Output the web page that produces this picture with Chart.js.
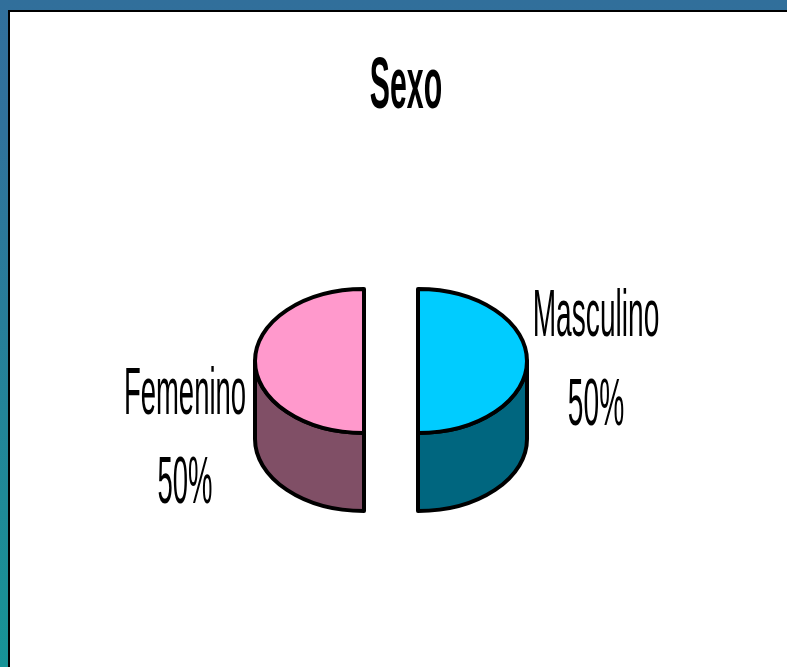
<!DOCTYPE html>
<html>
<head>
<meta charset="utf-8">
<title>Sexo</title>
<style>
    html, body { margin: 0; padding: 0; }
    body {
        position: relative;
        width: 787px;
        height: 667px;
        overflow: hidden;
        background: linear-gradient(to bottom, #316f9b, #30729b 20%, #1a9096 90%, #169397);
    }
    #frame {
        position: absolute;
        left: 8px;
        top: 10px;
        right: 0;
        bottom: 0;
        background: #fff;
        border-left: 2px solid #000;
        border-top: 2px solid #000;
    }
    #chart { position: absolute; left: 0; top: 0; }
</style>
</head>
<body>
<div id="frame"></div>
<canvas id="chart" width="787" height="667"></canvas>
<script src="https://cdn.jsdelivr.net/npm/chart.js@4"></script>
<script>
const chartTitle = 'Sexo';
const categories = ['Masculino', 'Femenino'];
const values = [50, 50];
const topColors = ['#00ccff', '#ff99cc'];
const sideColors = ['#00667f', '#804f66'];

// Page positions of the text blocks, same order as categories
const labelCenters = [
    { x: 596, y: 336, pctY: 425, scaleX: 0.42 },
    { x: 185, y: 414, pctY: 503, scaleX: 0.41 }
];

const squash = 72 / 109;   // height / width of the top ellipse
const depth = 78;          // height of the pie wall
const explode = 27;        // how far each slice is pulled out

// Condensed text, the reference squeezes Arial to less than half its width
function narrowText(ctx, text, x, y, font, scaleX) {
    ctx.save();
    ctx.font = font;
    ctx.fillStyle = '#000';
    ctx.textAlign = 'center';
    ctx.textBaseline = 'alphabetic';
    ctx.translate(x, y);
    ctx.scale(scaleX, 1);
    ctx.fillText(text, 0, 0);
    ctx.restore();
}

function drawSlice(ctx, arc, i) {
    const mid = (arc.startAngle + arc.endAngle) / 2;
    const rx = arc.outerRadius;
    const ry = rx * squash;
    const cx = arc.x + Math.cos(mid) * explode;
    const cy = arc.y;

    ctx.lineWidth = 4;
    ctx.lineJoin = 'round';
    ctx.strokeStyle = '#000';

    // Wall: only the part of the rim that faces the viewer (angle 0 to PI)
    const wallStart = Math.max(arc.startAngle, 0);
    const wallEnd = Math.min(arc.endAngle, Math.PI);
    ctx.beginPath();
    ctx.ellipse(cx, cy, rx, ry, 0, wallStart, wallEnd);
    ctx.ellipse(cx, cy + depth, rx, ry, 0, wallEnd, wallStart, true);
    ctx.closePath();
    ctx.fillStyle = sideColors[i];
    ctx.fill();
    ctx.stroke();

    // Top face
    ctx.beginPath();
    ctx.moveTo(cx, cy);
    ctx.ellipse(cx, cy, rx, ry, 0, arc.startAngle, arc.endAngle);
    ctx.closePath();
    ctx.fillStyle = topColors[i];
    ctx.fill();
    ctx.stroke();
}

const pie3d = {
    id: 'pie3d',
    beforeDatasetsDraw(chart) {
        const ctx = chart.ctx;
        const arcs = chart.getDatasetMeta(0).data;
        const total = values.reduce((a, b) => a + b, 0);

        arcs.forEach((arc, i) => drawSlice(ctx, arc, i));

        categories.forEach((name, i) => {
            const p = labelCenters[i];
            const pct = Math.round(values[i] / total * 100) + '%';
            narrowText(ctx, name, p.x, p.y, '67px "Liberation Sans"', p.scaleX);
            narrowText(ctx, pct, p.x, p.pctY, '67px "Liberation Sans"', p.scaleX);
        });

        narrowText(ctx, chartTitle, 406, 108, 'bold 72px "Liberation Sans"', 0.42);
        return false; // slices are already painted
    }
};

new Chart(document.getElementById('chart').getContext('2d'), {
    type: 'pie',
    data: {
        labels: categories,
        datasets: [{ data: values, backgroundColor: topColors, borderWidth: 0 }]
    },
    options: {
        responsive: false,
        animation: false,
        radius: 109,
        layout: { padding: { top: 55, right: 5 } },
        plugins: {
            legend: { display: false },
            tooltip: { enabled: false }
        }
    },
    plugins: [pie3d]
});
</script>
</body>
</html>
